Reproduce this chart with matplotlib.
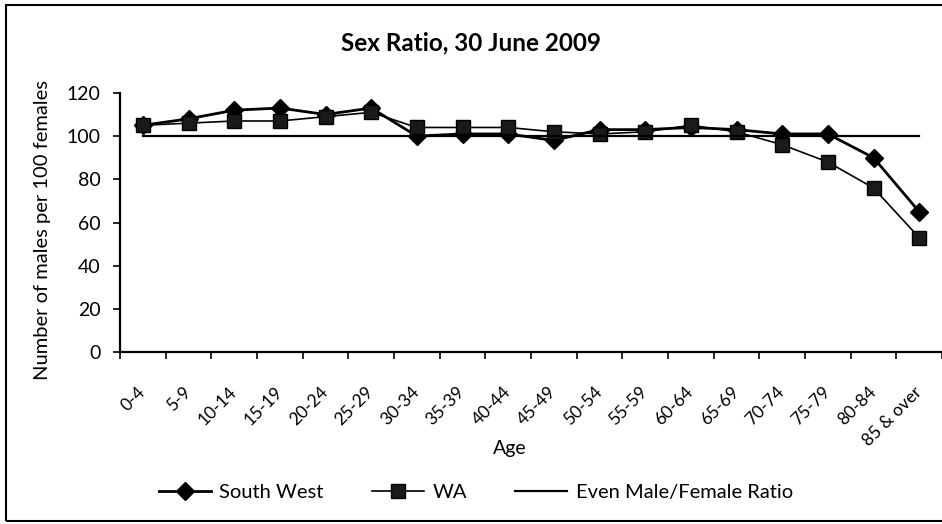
import matplotlib.pyplot as plt
import matplotlib.transforms as mtransforms
from matplotlib.patches import Rectangle
import numpy as np

age_groups = ['0-4', '5-9', '10-14', '15-19', '20-24', '25-29', '30-34', '35-39', '40-44',
              '45-49', '50-54', '55-59', '60-64', '65-69', '70-74', '75-79', '80-84', '85 & over']
south_west = [105, 108, 112, 113, 110, 113, 100, 101, 101, 98, 103, 103, 104, 103, 101, 101, 90, 65]
wa = [105, 106, 107, 107, 109, 111, 104, 104, 104, 102, 101, 102, 105, 102, 96, 88, 76, 53]
even_ratio = [100] * len(age_groups)

plt.rcParams['font.family'] = ['Lato', 'DejaVu Sans']

fig = plt.figure(figsize=(9.42, 5.24), dpi=100)
ax = fig.add_axes([0.1274, 0.328, 0.8726, 0.4947])

x = np.arange(len(age_groups))
ax.plot(x, south_west, color='black', linewidth=2.0, marker='D', markersize=9,
        markerfacecolor='black', label='South West')
ax.plot(x, wa, color='black', linewidth=1.2, marker='s', markersize=10.5,
        markerfacecolor='#1a1a1a', markeredgecolor='black', label='WA')
ax.plot(x, even_ratio, color='black', linewidth=1.6, label='Even Male/Female Ratio')

ax.set_xlim(-0.5, len(age_groups) - 0.5)
ax.set_ylim(0, 120)
ax.set_yticks(np.arange(0, 121, 20))
ax.set_xticks(x)
ax.set_xticklabels(age_groups, rotation=45, ha='right', va='center', rotation_mode='anchor', fontsize=12.5)
shift = mtransforms.ScaledTranslation(8 / 100, 0, fig.dpi_scale_trans)
for lab in ax.get_xticklabels():
    lab.set_transform(lab.get_transform() + shift)
ax.set_xticks(np.arange(-0.5, len(age_groups), 1), minor=True)
ax.tick_params(axis='x', which='major', length=0, pad=27)
ax.tick_params(axis='x', which='minor', length=5, direction='out', width=1.2)
ax.tick_params(axis='y', length=5, direction='out', width=1.2, labelsize=14, pad=9)

for s in ['top', 'right']:
    ax.spines[s].set_visible(False)
ax.spines['left'].set_linewidth(1.6)
ax.spines['bottom'].set_linewidth(1.6)

fig.text(0.5, 0.918, 'Sex Ratio, 30 June 2009', fontsize=17.5, fontweight='bold',
         ha='center', va='center')
ax.set_xlabel('Age', fontsize=14)
ax.xaxis.set_label_coords(0.474, -0.371)
ax.xaxis.label.set_va('center')
ax.set_ylabel('Number of males per 100 females', fontsize=14.5)
ax.yaxis.set_label_coords(-0.094, 0.47)
ax.yaxis.label.set_va('center')

fig.legend(loc='center', bbox_to_anchor=(0.505, 0.061), ncol=3, frameon=False,
           fontsize=14.5, handlelength=2.6, handletextpad=0.4, columnspacing=2.4)

fig.patches.append(Rectangle((0.006, 0.006), 1.2, 0.985, transform=fig.transFigure,
                             fill=False, edgecolor='black', linewidth=1.5))

plt.savefig('out.png', dpi=100)
